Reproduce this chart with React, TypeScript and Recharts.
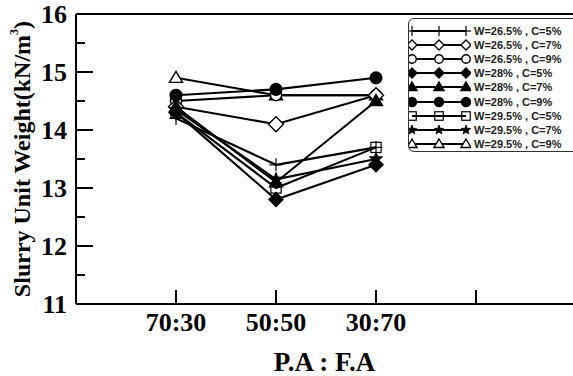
import React from 'react';
import { LineChart, Line, XAxis, YAxis, ReferenceLine } from 'recharts';

const categories = ['70:30', '50:50', '30:70'];
const xPositions = [1, 2, 3];
const xTicks = [1, 2, 3, 4];
const yTicks = [11, 11.5, 12, 12.5, 13, 13.5, 14, 14.5, 15, 15.5, 16];

const seriesNames = [
  'W=26.5% , C=5%',
  'W=26.5% , C=7%',
  'W=26.5% , C=9%',
  'W=28% , C=5%',
  'W=28% , C=7%',
  'W=28% , C=9%',
  'W=29.5% , C=5%',
  'W=29.5% , C=7%',
  'W=29.5% , C=9%',
];
const seriesShapes = [
  'plus', 'diamondOpen', 'circleOpen',
  'diamondFilled', 'triangleFilled', 'circleFilled',
  'squareOpen', 'star', 'triangleOpen',
];
// drawing order (open markers underneath, filled markers on top)
const drawOrder = [0, 8, 2, 1, 6, 7, 4, 3, 5];

const w265c5 = [14.2, 13.4, 13.7];
const w265c7 = [14.4, 14.1, 14.6];
const w265c9 = [14.5, 14.6, 14.6];
const w28c5 = [14.3, 12.8, 13.4];
const w28c7 = [14.4, 13.1, 14.5];
const w28c9 = [14.6, 14.7, 14.9];
const w295c5 = [14.3, 13.0, 13.7];
const w295c7 = [14.35, 13.15, 13.5];
const w295c9 = [14.9, 14.6, 14.6];

const seriesValues = [w265c5, w265c7, w265c9, w28c5, w28c7, w28c9, w295c5, w295c7, w295c9];

const data = xPositions.map((x, i) => {
  const row: any = { x, cat: categories[i] };
  seriesValues.forEach((vals, s) => {
    row['s' + s] = vals[i];
  });
  return row;
});

const SERIF = '"Liberation Serif", "Times New Roman", serif';
const SANS = '"Liberation Sans", Arial, sans-serif';

function Marker({ shape, cx, cy, s }: { shape: string; cx: number; cy: number; s: number }) {
  const h = s / 2;
  const sw = 1.4;
  switch (shape) {
    case 'plus':
      return (
        <g stroke="#000" strokeWidth={1.2}>
          <line x1={cx - h} y1={cy} x2={cx + h} y2={cy} />
          <line x1={cx} y1={cy - h} x2={cx} y2={cy + h} />
        </g>
      );
    case 'diamondOpen':
      return <polygon points={`${cx},${cy - h} ${cx + h},${cy} ${cx},${cy + h} ${cx - h},${cy}`} fill="#fff" stroke="#000" strokeWidth={sw} />;
    case 'diamondFilled':
      return <polygon points={`${cx},${cy - h} ${cx + h},${cy} ${cx},${cy + h} ${cx - h},${cy}`} fill="#000" stroke="#000" strokeWidth={sw} />;
    case 'circleOpen':
      return <circle cx={cx} cy={cy} r={h * 0.85} fill="#fff" stroke="#000" strokeWidth={sw} />;
    case 'circleFilled':
      return <circle cx={cx} cy={cy} r={h * 0.9} fill="#000" stroke="#000" strokeWidth={sw} />;
    case 'triangleFilled':
      return <polygon points={`${cx},${cy - h} ${cx + h},${cy + h * 0.7} ${cx - h},${cy + h * 0.7}`} fill="#000" stroke="#000" strokeWidth={sw} />;
    case 'triangleOpen':
      return <polygon points={`${cx},${cy - h} ${cx + h},${cy + h * 0.7} ${cx - h},${cy + h * 0.7}`} fill="#fff" stroke="#000" strokeWidth={sw} />;
    case 'squareOpen':
      return <rect x={cx - h * 0.85} y={cy - h * 0.85} width={h * 1.7} height={h * 1.7} fill="none" stroke="#000" strokeWidth={1.2} />;
    case 'star': {
      const pts: string[] = [];
      for (let k = 0; k < 10; k++) {
        const r = k % 2 === 0 ? h : h * 0.42;
        const a = -Math.PI / 2 + (k * Math.PI) / 5;
        pts.push(`${cx + r * Math.cos(a)},${cy + r * Math.sin(a)}`);
      }
      return <polygon points={pts.join(' ')} fill="#000" stroke="#000" strokeWidth={0.8} />;
    }
    default:
      return null;
  }
}

const markerSizes: Record<string, number> = {
  plus: 13,
  diamondOpen: 15,
  circleOpen: 13,
  diamondFilled: 14,
  triangleFilled: 13,
  circleFilled: 13,
  squareOpen: 12,
  star: 14,
  triangleOpen: 13,
};

function YTick(props: any) {
  const { x, y, payload } = props;
  const axisX = x + 9;
  const v = payload.value;
  const major = Math.abs(v - Math.round(v)) < 1e-6;
  return (
    <g>
      <line x1={axisX} y1={y} x2={axisX + (major ? 17 : 9)} y2={y} stroke="#000" strokeWidth={2} />
      {major && (
        <text x={x} y={y} textAnchor="end" dominantBaseline="central" fontFamily={SERIF} fontWeight="bold" fontSize={26} fill="#000">
          {v}
        </text>
      )}
    </g>
  );
}

function XTick(props: any) {
  const { x, y, payload } = props;
  const label = categories[payload.value - 1];
  return (
    <g>
      <line x1={x} y1={y} x2={x} y2={y - 14} stroke="#000" strokeWidth={2} />
      {label && (
        <text x={x} y={y + 18} textAnchor="middle" dominantBaseline="central" fontFamily={SERIF} fontWeight="bold" fontSize={26} fill="#000">
          {label}
        </text>
      )}
    </g>
  );
}

function LegendBox() {
  return (
    <div
      style={{
        position: 'absolute',
        left: 408,
        top: 18,
        width: 185,
        height: 134,
        border: '1.5px solid #333',
        borderRadius: 6,
        background: '#fff',
        boxSizing: 'border-box',
      }}
    >
      {seriesNames.map((name, i) => (
        <div key={name} style={{ position: 'absolute', left: 0, top: 5 + i * 14.1, height: 14, width: 180 }}>
          <svg width={62} height={14} style={{ position: 'absolute', left: 0, top: 0 }}>
            <line x1={3} y1={7} x2={57} y2={7} stroke="#000" strokeWidth={1.8} />
            {[3, 30, 57].map((mx) => (
              <Marker key={mx} shape={seriesShapes[i]} cx={mx} cy={7} s={10} />
            ))}
          </svg>
          <span
            style={{
              position: 'absolute',
              left: 65,
              top: 0,
              lineHeight: '14px',
              fontFamily: SANS,
              fontWeight: 'bold',
              fontSize: 11,
              color: '#222',
              whiteSpace: 'nowrap',
            }}
          >
            {name}
          </span>
        </div>
      ))}
    </div>
  );
}

export default function App() {
  return (
    <div style={{ position: 'fixed', left: 0, top: 0, width: 573, height: 376, overflow: 'hidden', background: '#fff' }}>
      <LineChart width={573} height={376} data={data} margin={{ top: 14, right: 0, bottom: 0, left: 0 }}>
        <XAxis
          dataKey="x"
          type="number"
          domain={[0, 4.97]}
          ticks={xTicks}
          interval={0}
          allowDataOverflow
          axisLine={{ stroke: '#000', strokeWidth: 2 }}
          tickLine={false}
          tickSize={0}
          tickMargin={0}
          tick={<XTick />}
          height={72}
          label={{
            content: (p: any) => {
              const vb = p.viewBox;
              return (
                <text x={vb.x + vb.width / 2} y={vb.y + 58} textAnchor="middle" dominantBaseline="central" fontFamily={SERIF} fontWeight="bold" fontSize={27} fill="#000">
                  P.A : F.A
                </text>
              );
            },
          }}
        />
        <YAxis
          type="number"
          domain={[11, 16]}
          ticks={yTicks}
          interval={0}
          axisLine={{ stroke: '#000', strokeWidth: 2 }}
          tickLine={false}
          tickSize={0}
          tickMargin={9}
          tick={<YTick />}
          width={76}
          label={{
            content: (p: any) => {
              const vb = p.viewBox;
              const cx = 22;
              const cy = vb.y + vb.height / 2;
              return (
                <text
                  x={cx}
                  y={cy}
                  transform={`rotate(-90 ${cx} ${cy})`}
                  textAnchor="middle"
                  dominantBaseline="central"
                  fontFamily={SERIF}
                  fontWeight="bold"
                  fontSize={24}
                  fill="#000"
                >
                  Slurry Unit Weight(kN/m
                  <tspan fontSize={12} dy={-8}>3</tspan>
                  <tspan dy={8}>)</tspan>
                </text>
              );
            },
          }}
        />
        <ReferenceLine y={16} stroke="#000" strokeWidth={2} />
        {drawOrder.map((s) => (
          <Line
            key={seriesNames[s]}
            name={seriesNames[s]}
            dataKey={'s' + s}
            stroke="#000"
            strokeWidth={2.1}
            isAnimationActive={false}
            dot={(p: any) => (
              <Marker key={`m${s}-${p.index}`} shape={seriesShapes[s]} cx={p.cx} cy={p.cy} s={markerSizes[seriesShapes[s]]} />
            )}
            activeDot={false}
          />
        ))}
      </LineChart>
      <LegendBox />
    </div>
  );
}
